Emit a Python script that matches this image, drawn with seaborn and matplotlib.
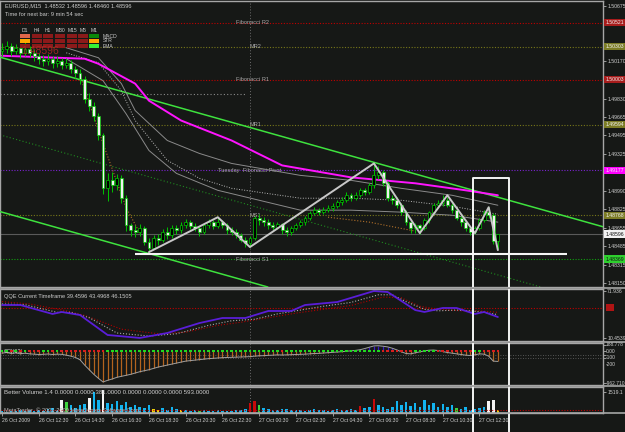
import numpy as np
import matplotlib
matplotlib.use("Agg")
import matplotlib.pyplot as plt
import seaborn as sns
from matplotlib.patches import Rectangle
from matplotlib.lines import Line2D
from matplotlib.transforms import blended_transform_factory

# ---- data (EURUSD M15) ----
TIME_LABELS = ["26 Oct 2009", "26 Oct 12:30", "26 Oct 14:30", "26 Oct 16:30", "26 Oct 18:30",
               "26 Oct 20:30", "26 Oct 22:30", "27 Oct 00:30", "27 Oct 02:30", "27 Oct 04:30",
               "27 Oct 06:30", "27 Oct 08:30", "27 Oct 10:30", "27 Oct 12:30"]
TIME_TICK_BAR = [0, 8, 16, 24, 32, 40, 48, 56, 64, 72, 80, 88, 96, 104]
DAY_SEPARATOR_BAR = 54

FIRST_OPEN = 1.50266
CLOSE = [1.50285, 1.50312, 1.50266, 1.50294, 1.50248, 1.50285, 1.50248, 1.50221, 1.50194, 1.50176,
         1.50194, 1.50157, 1.50176, 1.50139, 1.50157, 1.50103, 1.50067, 1.50012, 1.49831, 1.49767,
         1.49676, 1.49495, 1.49013, 1.49086, 1.49041, 1.49104, 1.48923, 1.48677, 1.48632, 1.48614,
         1.48650, 1.48523, 1.48468, 1.48559, 1.48541, 1.48614, 1.48587, 1.48650, 1.48632, 1.48677,
         1.48705, 1.48668, 1.48650, 1.48614, 1.48677, 1.48705, 1.48668, 1.48705, 1.48677, 1.48632,
         1.48614, 1.48587, 1.48541, 1.48514, 1.48559, 1.48741, 1.48723, 1.48705, 1.48677, 1.48659,
         1.48687, 1.48632, 1.48614, 1.48650, 1.48677, 1.48705, 1.48741, 1.48786, 1.48814, 1.48796,
         1.48814, 1.48832, 1.48850, 1.48886, 1.48904, 1.48950, 1.48923, 1.48950, 1.48995, 1.48977,
         1.49041, 1.49131, 1.49159, 1.49059, 1.48923, 1.48904, 1.48859, 1.48796, 1.48705, 1.48650,
         1.48677, 1.48650, 1.48723, 1.48796, 1.48859, 1.48877, 1.48904, 1.48859, 1.48814, 1.48741,
         1.48705, 1.48650, 1.48614, 1.48650, 1.48723, 1.48796, 1.48768, 1.48532, 1.48596]
HIGH = [1.5034, 1.5036, 1.5034, 1.5033, 1.5032, 1.5035, 1.5031, 1.5028, 1.5025, 1.5023,
        1.5024, 1.5022, 1.5022, 1.5020, 1.5020, 1.5018, 1.5013, 1.5010, 1.5004, 1.4988,
        1.4980, 1.4970, 1.4952, 1.4915, 1.4916, 1.4914, 1.4913, 1.4895, 1.4870, 1.4868,
        1.4869, 1.4867, 1.4856, 1.4859, 1.4860, 1.4864, 1.4866, 1.4868, 1.4868, 1.4871,
        1.4873, 1.4872, 1.4870, 1.4867, 1.4870, 1.4873, 1.4872, 1.4875, 1.4872, 1.4870,
        1.4866, 1.4864, 1.4861, 1.4857, 1.4858, 1.4876, 1.4878, 1.4875, 1.4873, 1.4871,
        1.4871, 1.4870, 1.4866, 1.4867, 1.4870, 1.4872, 1.4876, 1.4881, 1.4884, 1.4883,
        1.4884, 1.4886, 1.4888, 1.4891, 1.4893, 1.4898, 1.4897, 1.4898, 1.4902, 1.4902,
        1.4906, 1.4924, 1.4922, 1.4918, 1.4908, 1.4895, 1.4893, 1.4888, 1.4882, 1.4873,
        1.4870, 1.4869, 1.4874, 1.4881, 1.4888, 1.4891, 1.4895, 1.4893, 1.4888, 1.4883,
        1.4877, 1.4872, 1.4867, 1.4867, 1.4874, 1.4882, 1.4884, 1.4879, 1.48596]
LOW = [1.5022, 1.5025, 1.5022, 1.5024, 1.5020, 1.5022, 1.5021, 1.5017, 1.5015, 1.5013,
       1.5014, 1.5011, 1.5012, 1.5010, 1.5011, 1.5006, 1.5002, 1.4996, 1.4979, 1.4972,
       1.4963, 1.4945, 1.4896, 1.4890, 1.4898, 1.4900, 1.4888, 1.4862, 1.4858, 1.4857,
       1.4858, 1.4850, 1.4843, 1.4846, 1.4850, 1.4852, 1.4855, 1.4856, 1.4860, 1.4861,
       1.4865, 1.4864, 1.4862, 1.4858, 1.4860, 1.4865, 1.4864, 1.4865, 1.4865, 1.4860,
       1.4859, 1.4856, 1.4852, 1.4848, 1.4849, 1.4854, 1.4868, 1.4867, 1.4864, 1.4863,
       1.4864, 1.4860, 1.4858, 1.4859, 1.4863, 1.4866, 1.4868, 1.4872, 1.4877, 1.4877,
       1.4878, 1.4880, 1.4881, 1.4883, 1.4886, 1.4889, 1.4890, 1.4891, 1.4893, 1.4895,
       1.4896, 1.4902, 1.4910, 1.4903, 1.4890, 1.4887, 1.4883, 1.4877, 1.4868, 1.4861,
       1.4861, 1.4860, 1.4863, 1.4870, 1.4878, 1.4884, 1.4885, 1.4884, 1.4879, 1.4872,
       1.4867, 1.4862, 1.4859, 1.4860, 1.4863, 1.4871, 1.4874, 1.4851, 1.48460]

# moving averages (knots)
EMA_BAR = [0, 18, 21, 29, 32, 39, 50, 61, 76, 90, 101, 108]
EMA = [1.50221, 1.50194, 1.50148, 1.49967, 1.49812, 1.49631, 1.49449, 1.49222, 1.49113, 1.49059, 1.48995, 1.48950]
BAND_UP_BAR = [14, 21, 26, 29, 36, 43, 50, 65, 76, 87, 98, 108]
BAND_UP = [1.50294, 1.50203, 1.49967, 1.49722, 1.49449, 1.49331, 1.49240, 1.49131, 1.49086, 1.49013, 1.48950, 1.48859]
BAND_MID_BAR = [14, 21, 26, 29, 36, 43, 50, 65, 76, 87, 98, 108]
BAND_MID = [1.50248, 1.50157, 1.49903, 1.49631, 1.49268, 1.49104, 1.49013, 1.48923, 1.48923, 1.48904, 1.48850, 1.48777]
BAND_LO_BAR = [14, 22, 27, 32, 38, 47, 65, 76, 87, 98, 108]
BAND_LO = [1.50194, 1.49994, 1.49694, 1.49358, 1.49149, 1.48995, 1.48814, 1.48814, 1.48796, 1.48768, 1.48705]
FAST_BAR_A = [17, 22, 27, 30]
FAST_A = [1.50039, 1.49422, 1.48841, 1.48605]
FAST_BAR_B = [71, 80, 90]
FAST_B = [1.48750, 1.48705, 1.48623]

# zigzag
ZZ_BAR = [32, 47, 54, 81, 91, 97, 103, 106, 108]
ZZ_PRICE = [1.48432, 1.48750, 1.48478, 1.49240, 1.48605, 1.48950, 1.48605, 1.48841, 1.48450]

# channel anchors (bar, price)
CH_UPPER = [(0, 1.50203), (81, 1.49250)]
CH_MIDDLE = [(0, 1.49495), (108, 1.48224)]
CH_LOWER = [(0, 1.48796), (32, 1.48419)]

# horizontal levels
LEVEL_NAME = ["Fibonacci R2", "MR2", "Fibonacci R1", "MR1", "Tuesday  Fibonacci Pivot", "MS1", "Fibonacci S1"]
LEVEL_PRICE = [1.50521, 1.50303, 1.50003, 1.49594, 1.49177, 1.48768, 1.48369]
LEVEL_COLOR = ["#c00000", "#77771a", "#c00000", "#77771a", "#7a22d0", "#77771a", "#10a010"]
LEVEL_LABEL_BAR = [51, 54, 51, 54, 47, 54, 51]
OLD_LEVEL_PRICE = 1.49876
OLD_LEVEL_END = 53
SUPPORT_PRICE = 1.48414
SUPPORT_BARS = (29, 123)
BID = 1.48596
BOX_PRICE = [1.50521, 1.50303, 1.50003, 1.49594, 1.49177, 1.48768, 1.48596, 1.48369]
BOX_COLOR = ["#a81c1c", "#7c7c26", "#a81c1c", "#7c7c26", "#ff00ff", "#7c7c26", "#f2f2f2", "#2ed02e"]
PRICE_TICKS = [1.50675, 1.50505, 1.50335, 1.50170, 1.50005, 1.49830, 1.49665, 1.49495,
               1.49325, 1.49160, 1.48990, 1.48825, 1.48655, 1.48485, 1.48315, 1.48150]
MARK_BOX = (102.6, 110.5, 1.49104)   # left bar, right bar, top price

# QQE
QQE_BAR = [0, 4, 11, 13, 17, 23, 30, 36, 43, 48, 53, 58, 63, 66, 73, 81, 84, 86, 90, 92, 96, 99, 103, 105, 108]
QQE_RSI = [53.6, 53.6, 41.9, 44.5, 40.5, 14.4, 10.5, 17.0, 30.0, 36.6, 36.6, 45.8, 45.8, 53.6, 57.5, 71.9,
           70.6, 62.8, 47.0, 44.5, 49.7, 49.7, 41.9, 44.5, 37.9]
QQE_FAST_BAR = [0, 5, 12, 15, 19, 25, 32, 38, 45, 50, 55, 60, 65, 70, 76, 82, 85, 88, 92, 95, 99, 102, 105, 108]
QQE_FAST = [55, 54, 44, 44, 37, 17, 13, 16, 27, 33, 35, 42, 47, 52, 57, 67, 67, 58, 48, 46, 47, 46, 44, 41]
QQE_SLOW_BAR = [0, 6, 14, 18, 26, 34, 40, 47, 52, 58, 64, 70, 76, 83, 87, 91, 95, 100, 104, 108]
QQE_SLOW = [58, 55, 46, 40, 22, 16, 18, 27, 31, 37, 43, 48, 53, 64, 63, 52, 48, 46, 46, 44]

# CCI(63)
CCI = [-60, -40, -70, -50, -80, -60, -80, -90, -100, -95,
       -85, -100, -90, -95, -120, -150, -190, -260, -420, -560,
       -700, -820, -930, -880, -840, -790, -760, -730, -700, -660,
       -620, -590, -560, -520, -480, -450, -420, -390, -360, -330,
       -300, -285, -270, -255, -240, -225, -215, -205, -195, -190,
       -185, -180, -175, -170, -165, -150, -140, -135, -125, -120,
       -110, -115, -110, -105, -100, -95, -90, -80, -70, -65,
       -55, -45, -35, -25, -15, 0, 10, 25, 45, 80,
       120, 160, 165, 150, 130, 90, 40, -20, -70, -80,
       -50, -20, 10, 30, 35, 20, -10, -40, -60, -80,
       -100, -120, -130, -110, -80, -90, -150, -300, -310]

# Better Volume
VOLUME = [120, 90, 150, 110, 180, 130, 200, 160, 250, 140,
          280, 350, 220, 900, 800, 550, 350, 600, 650, 1100,
          1500, 950, 1650, 700, 650, 850, 600, 800, 450, 550,
          400, 350, 600, 300, 250, 350, 200, 450, 280, 220,
          250, 150, 200, 120, 180, 130, 160, 200, 120, 150,
          110, 250, 180, 300, 700, 850, 600, 350, 300, 250,
          220, 320, 280, 180, 250, 200, 150, 220, 300, 250,
          200, 150, 220, 300, 250, 200, 280, 250, 500, 350,
          400, 970, 600, 450, 300, 400, 850, 600, 800, 500,
          750, 400, 900, 550, 750, 450, 650, 400, 550, 350,
          300, 400, 250, 300, 350, 450, 850, 900, 200]
VOL_WHITE = [13, 19, 22, 106, 107]
VOL_GREEN = [14, 43, 56, 99]
VOL_RED = [54, 55, 78, 81]
VOL_YELLOW = [33, 34, 39, 108]
VOL_AVG = 220

# timeframe matrix (top-left)
TF_COLS = ["D1", "H4", "H1", "M30", "M15", "M5", "M1"]
TF_ROWS = ["MACD", "STR", "EMA"]
TF_COLORS = [["#e0664a", "#8b1a1a", "#8b1a1a", "#8b1a1a", "#8b1a1a", "#8b1a1a", "#0a8a0a"],
             ["#ffa500", "#8b1a1a", "#8b1a1a", "#8b1a1a", "#8b1a1a", "#8b1a1a", "#ffa500"],
             ["#8b1a1a", "#8b1a1a", "#8b1a1a", "#8b1a1a", "#8b1a1a", "#8b1a1a", "#36f036"]]

# ---- figure ----
W, H = 625, 432
BG = "#161816"
TXT = "#cfcfcf"
FRAME = "#a6a6a6"
FS = 4.1        # general label size
FS_AX = 3.7     # right scale labels
sns.set_theme(style="dark", rc={"axes.facecolor": BG, "figure.facecolor": BG})
plt.rcParams["font.family"] = ["Liberation Sans", "DejaVu Sans"]

fig = plt.figure(figsize=(W / 100, H / 100), dpi=100)


def px(x0, y0, x1, y1):
    return [x0 / W, 1 - y1 / H, (x1 - x0) / W, (y1 - y0) / H]


XMIN, XMAX = -0.44, 130.9
ax = fig.add_axes(px(0, 1, 603, 287))
ax_q = fig.add_axes(px(0, 289, 603, 341))
ax_c = fig.add_axes(px(0, 343, 603, 385))
ax_v = fig.add_axes(px(0, 387, 603, 413))

for a in (ax, ax_q, ax_c, ax_v):
    a.set_facecolor(BG)
    a.set_xlim(XMIN, XMAX)
    a.grid(False)
    for s in a.spines.values():
        s.set_color(FRAME)
        s.set_linewidth(1.0)
    a.yaxis.tick_right()
    a.tick_params(axis="y", colors=TXT, labelsize=FS_AX, length=2, width=0.5, pad=1)
    a.tick_params(axis="x", bottom=False, labelbottom=False)
    a.axvline(DAY_SEPARATOR_BAR, color="#6e6e6e", lw=0.7, ls=(0, (1, 2)), zorder=1)

bars = np.arange(len(CLOSE))
opens = np.array([FIRST_OPEN] + CLOSE[:-1])
closes = np.array(CLOSE)

# ---- main price panel ----
ax.set_ylim(1.48114, 1.50720)
# scale labels that sit under a line's price box are hidden, as in the terminal
shown_ticks = [t for t in PRICE_TICKS if min(abs(t - b) for b in BOX_PRICE) > 0.00035]
ax.set_yticks(shown_ticks)
ax.set_yticklabels([f"{p:.5f}" for p in shown_ticks])

for name, price, col, lb in zip(LEVEL_NAME, LEVEL_PRICE, LEVEL_COLOR, LEVEL_LABEL_BAR):
    ax.axhline(price, color=col, lw=0.8, ls=(0, (1, 1.5)), zorder=1)
    ax.text(lb, price, name, color="#a8a8a8", fontsize=FS, va="center", ha="left", zorder=2)
ax.hlines(OLD_LEVEL_PRICE, XMIN, OLD_LEVEL_END, color="#8a8a8a", lw=0.8, ls=(0, (1, 2)), zorder=1)
ax.axhline(BID, color="#5a5a5a", lw=0.8, zorder=1)

# channel
ax.axline(*CH_UPPER, color="#3ee23e", lw=1.1, zorder=3)
ax.axline(*CH_LOWER, color="#3ee23e", lw=1.1, zorder=3)
ax.axline(*CH_MIDDLE, color="#1f8a1f", lw=0.8, ls=(0, (1, 2)), zorder=2)

# averages
sns.lineplot(x=BAND_UP_BAR, y=BAND_UP, ax=ax, color="#8a8a8a", lw=0.7, zorder=3)
sns.lineplot(x=BAND_MID_BAR, y=BAND_MID, ax=ax, color="#b8b8b8", lw=0.7, linestyle=":", zorder=3)
sns.lineplot(x=BAND_LO_BAR, y=BAND_LO, ax=ax, color="#8a8a8a", lw=0.7, zorder=3)
sns.lineplot(x=FAST_BAR_A, y=FAST_A, ax=ax, color="#b0702a", lw=0.8, linestyle=":", zorder=3)
sns.lineplot(x=FAST_BAR_B, y=FAST_B, ax=ax, color="#b0702a", lw=0.8, linestyle=":", zorder=3)
sns.lineplot(x=EMA_BAR, y=EMA, ax=ax, color="#ff14ff", lw=1.4, zorder=4)

# candles
body_lo = np.minimum(opens, closes)
body_h = np.maximum(np.abs(closes - opens), 0.00003)
fills = ["#f0f0f0" if c < o else "#000000" for o, c in zip(opens, closes)]
ax.vlines(bars, LOW, HIGH, color="#00c400", lw=0.7, zorder=5)
ax.bar(bars, body_h, bottom=body_lo, width=0.62, color=fills, edgecolor="#00c400", linewidth=0.5, zorder=6)

# zigzag + support + marker box
sns.lineplot(x=ZZ_BAR, y=ZZ_PRICE, ax=ax, color="#c8c8c8", lw=1.4, zorder=7)
ax.hlines(SUPPORT_PRICE, *SUPPORT_BARS, color="#f4f4f4", lw=1.5, zorder=7)
bl, br, btop = MARK_BOX
ax.plot([bl, bl, br, br], [1.48114, btop, btop, 1.48114], color="#f4f4f4", lw=1.4, zorder=8)

# price boxes on the right scale
bt = blended_transform_factory(ax.transAxes, ax.transData)
for price, col in zip(BOX_PRICE, BOX_COLOR):
    tc = "#111111" if col in ("#f2f2f2", "#2ed02e") else "#f0f0f0"
    ax.text(1.004, price, f"{price:.5f}", transform=bt, fontsize=FS_AX, color=tc, va="center", ha="left",
            bbox=dict(facecolor=col, edgecolor="none", pad=0.8), clip_on=False, zorder=9)

# header texts
fig.text(5 / W, 1 - 6 / H, "EURUSD,M15  1.48532 1.48596 1.48460 1.48596", color=TXT, fontsize=FS, va="center")
fig.text(5 / W, 1 - 14 / H, "Time for next bar: 9 min 54 sec", color=TXT, fontsize=FS, va="center")
fig.text(21 / W, 1 - 51 / H, "1.48596", color="#b02828", fontsize=7.5, va="center", alpha=0.85)

col_x = [20, 32, 43, 55, 67, 78, 89]
row_y = [34, 39, 44]
for j, lab in enumerate(TF_COLS):
    fig.text((col_x[j] + 5) / W, 1 - 30 / H, lab, color=TXT, fontsize=3.6, ha="center", va="center")
for i, lab in enumerate(TF_ROWS):
    for j in range(len(TF_COLS)):
        fig.add_artist(Rectangle((col_x[j] / W, 1 - (row_y[i] + 4) / H), 10 / W, 3.6 / H,
                                 transform=fig.transFigure, facecolor=TF_COLORS[i][j], edgecolor="none"))
    fig.text(103 / W, 1 - (row_y[i] + 2) / H, lab, color=TXT, fontsize=3.6, va="center")

# ---- QQE panel ----
ax_q.set_ylim(6.53, 74.55)
ax_q.set_yticks([71.936, 10.4539])
ax_q.set_yticklabels(["71.936", "10.4539"])
ax_q.axhline(50, color="#c00000", lw=0.8, ls=(0, (1, 1.5)))
sns.lineplot(x=QQE_SLOW_BAR, y=QQE_SLOW, ax=ax_q, color="#b00000", lw=0.8, linestyle=":")
sns.lineplot(x=QQE_FAST_BAR, y=QQE_FAST, ax=ax_q, color="#a8a8a8", lw=0.8, linestyle=":")
sns.lineplot(x=QQE_BAR, y=QQE_RSI, ax=ax_q, color="#5a1ed8", lw=1.3)
ax_q.text(0.006, 0.86, "QQE Current Timeframe 39.4596 43.4968 46.1505", transform=ax_q.transAxes,
          color=TXT, fontsize=FS, va="center")
ax_q.text(1.006, 50, "     ", transform=blended_transform_factory(ax_q.transAxes, ax_q.transData),
          fontsize=FS_AX, va="center", bbox=dict(facecolor="#b01414", edgecolor="none", pad=0.6), clip_on=False)

# ---- CCI panel ----
cci = np.array(CCI)
ax_c.set_ylim(-1021.7, 247.8)
ax_c.set_yticks([188.778, 0, -100, -200, -962.71])
ax_c.set_yticklabels([])
ct = blended_transform_factory(ax_c.transAxes, ax_c.transData)
for lab, val, dy in (("188.778", 188.778, 0), ("0.00", 0, 0), ("-100", -100, -2.2),
                     ("-200", -200, -4.6), ("-962.710", -962.71, 0)):
    ax_c.annotate(lab, xy=(1, val), xycoords=ct, xytext=(2, dy), textcoords="offset points",
                  color=TXT, fontsize=3.5, va="center", annotation_clip=False)
for lvl in (-100, -200):
    ax_c.axhline(lvl, color="#6a6a6a", lw=0.6, ls=(0, (1, 2)))
hist_col = np.where(cci < 0, "#b4641e", "#3a1cc0")
ax_c.vlines(bars, 0, cci, color=hist_col, lw=0.9)
sns.lineplot(x=bars, y=cci, ax=ax_c, color="#a0a0a0", lw=0.7)
rising = np.r_[True, cci[1:] >= cci[:-1]]
ax_c.scatter(bars, np.zeros_like(cci), s=3.5, marker="s", linewidths=0,
             c=np.where(rising, "#20d820", "#d81e1e"), zorder=5)
ax_c.text(0.006, 0.8, "CCI(63)", transform=ax_c.transAxes, color=TXT, fontsize=FS, va="center")

# ---- volume panel ----
vol_col = ["#12b4f0"] * len(VOLUME)
for idx_list, col in ((VOL_WHITE, "#f4f4f4"), (VOL_GREEN, "#3cd23c"), (VOL_RED, "#c80a0a"), (VOL_YELLOW, "#ecd20a")):
    for i in idx_list:
        vol_col[i] = col
ax_v.set_ylim(0, 1864)
ax_v.set_yticks([1519.1])
ax_v.set_yticklabels(["1519.1"])
ax_v.bar(bars, VOLUME, width=0.55, color=vol_col, linewidth=0)
ax_v.axhline(VOL_AVG, color="#c00000", lw=0.8, ls=(0, (1, 1.5)))
ax_v.text(0.006, 0.78, "Better Volume 1.4 0.0000 0.0000 381.0000 0.0000 0.0000 0.0000 593.0000",
          transform=ax_v.transAxes, color=TXT, fontsize=4.4, va="center")
ax_v.text(0.006, 0.1, "MetaTrader  \u00a9 2001-2009 MetaQuotes Software Corp.", transform=ax_v.transAxes,
          color="#b8b8b8", fontsize=FS, va="center")

ax_v.set_xticks(TIME_TICK_BAR)
ax_v.set_xticklabels(TIME_LABELS)
ax_v.tick_params(axis="x", bottom=True, labelbottom=True, colors=TXT, labelsize=3.7, length=2, width=0.5, pad=1.5)
for lab in ax_v.get_xticklabels():
    lab.set_ha("left")

# marker box continues through the indicator windows
for a in (ax_q, ax_c):
    for xb in (bl, br):
        a.axvline(xb, color="#f4f4f4", lw=1.4, zorder=8)
for xb in (bl, br):
    ax_v.axvline(xb, ymin=-0.75, ymax=1, color="#f4f4f4", lw=1.4, zorder=8, clip_on=False)

# window separators across the full width
for yy in (288, 342, 386, 413):
    fig.add_artist(Line2D([0, 1], [1 - yy / H, 1 - yy / H], transform=fig.transFigure, color=FRAME, lw=1.2))

fig.savefig("out.png", dpi=100, facecolor=BG)
